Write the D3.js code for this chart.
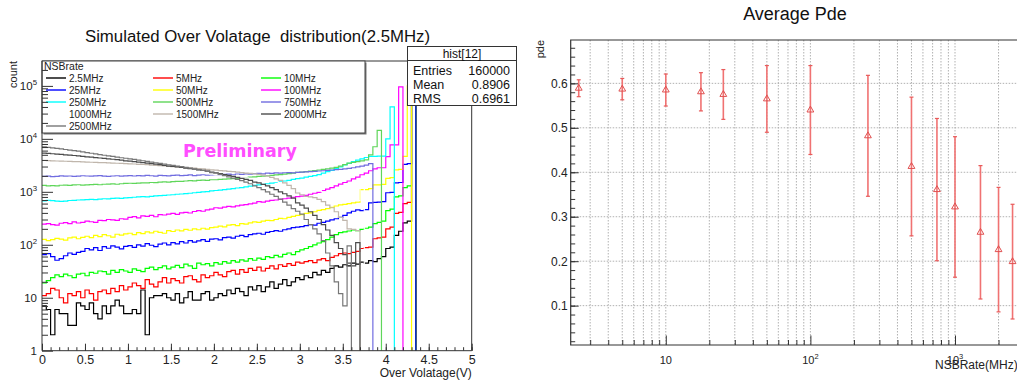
<!DOCTYPE html>
<html>
<head>
<meta charset="utf-8">
<script src="https://cdn.jsdelivr.net/npm/d3@7"></script>
<style>
  body { margin: 0; background: #fff; }
  svg { display: block; font-family: "Liberation Sans", Arial, Helvetica, sans-serif; }
</style>
</head>
<body>
<svg id="chart" width="1017" height="382"></svg>
<script>
// ---- left panel: simulated over-voltage histograms, bin width 0.05 V, counts per bin ----
const rateLabels = ["2.5MHz", "5MHz", "10MHz", "25MHz", "50MHz", "100MHz", "250MHz",
                    "500MHz", "750MHz", "1000MHz", "1500MHz", "2000MHz", "2500MHz"]
const binWidth = 0.05

const counts_2p5MHz = [
  7, 6, 2, 6, 5, 5, 3, 3, 8, 7,
  6, 8, 5, 4, 7, 5, 7, 9, 7, 5,
  5, 6, 5, 14, 2, 10, 11, 11, 12, 10,
  9, 12, 8, 10, 13, 9, 9, 12, 13, 9,
  10, 12, 11, 14, 12, 15, 13, 11, 16, 14,
  17, 13, 16, 20, 15, 18, 22, 17, 20, 24,
  22, 26, 24, 30, 27, 33, 30, 36, 40, 38,
  42, 40, 45, 43, 47, 45, 50, 48, 55, 60,
  85, 90, 150, 180, 260, 280, 155000]
const counts_5MHz = [
  11, 12, 15, 14, 10, 8, 12, 11, 13, 10,
  14, 12, 9, 13, 14, 12, 15, 13, 17, 14,
  16, 19, 17, 15, 22, 18, 16, 20, 24, 19,
  23, 21, 19, 25, 26, 22, 20, 27, 24, 26,
  30, 27, 25, 31, 33, 28, 34, 30, 36, 33,
  38, 32, 36, 40, 35, 42, 39, 44, 41, 47,
  45, 48, 50, 46, 52, 55, 50, 58, 62, 68,
  70, 68, 72, 75, 85, 88, 90, 130, 135, 140,
  200, 215, 390, 410, 600, 630, 150000]
const counts_10MHz = [
  19, 21, 24, 27, 25, 28, 26, 24, 28, 29,
  26, 30, 29, 32, 31, 28, 33, 30, 34, 32,
  30, 35, 33, 31, 36, 38, 34, 37, 40, 35,
  38, 41, 37, 43, 40, 36, 45, 42, 44, 40,
  46, 43, 48, 45, 50, 47, 52, 49, 55, 51,
  56, 53, 60, 57, 63, 59, 66, 70, 65, 74,
  80, 85, 92, 100, 108, 115, 125, 140, 155, 170,
  175, 182, 190, 185, 195, 205, 215, 250, 265, 280,
  440, 470, 800, 840, 1200, 1300, 140000]
const counts_25MHz = [
  65, 68, 60, 51, 55, 62, 70, 66, 72, 75,
  85, 80, 88, 78, 92, 86, 95, 90, 84, 93,
  96, 89, 100, 94, 105, 98, 92, 103, 108, 100,
  110, 104, 115, 108, 120, 112, 118, 125, 116, 128,
  130, 124, 136, 140, 133, 145, 150, 142, 155, 160,
  165, 158, 172, 178, 185, 180, 192, 200, 210, 215,
  220, 230, 240, 235, 255, 265, 280, 295, 310, 330,
  360, 400, 430, 455, 440, 460, 620, 630, 640, 650,
  960, 980, 1480, 1500, 3300, 3400, 120000]
const counts_50MHz = [
  127, 120, 125, 132, 128, 122, 135, 140, 130, 138,
  145, 136, 150, 142, 155, 148, 140, 158, 152, 160,
  165, 155, 170, 162, 175, 168, 180, 172, 165, 185,
  178, 190, 183, 195, 188, 200, 192, 205, 198, 210,
  215, 225, 218, 235, 240, 230, 250, 245, 260, 270,
  265, 280, 290, 285, 300, 315, 310, 330, 345, 360,
  370, 390, 400, 420, 445, 460, 480, 510, 540, 565,
  580, 600, 620, 640, 1100, 1100, 1150, 1350, 1350, 1380,
  1800, 1850, 2600, 2650, 4650, 100000]
const counts_100MHz = [
  245, 250, 240, 235, 255, 262, 250, 270, 258, 265,
  280, 272, 265, 290, 285, 300, 295, 288, 310, 305,
  330, 340, 322, 350, 345, 360, 338, 370, 365, 380,
  390, 375, 400, 410, 398, 425, 440, 430, 455, 470,
  500, 490, 515, 530, 520, 545, 560, 575, 590, 610,
  650, 640, 665, 690, 700, 720, 740, 760, 790, 810,
  830, 860, 900, 940, 980, 1050, 1120, 1200, 1300, 1400,
  1500, 1600, 1750, 1900, 2100, 2250, 2500, 2700, 2850, 2850,
  4600, 7700, 7700, 96000]
const counts_250MHz = [
  675, 690, 680, 665, 660, 670, 685, 690, 700, 705,
  710, 720, 715, 730, 740, 735, 750, 760, 755, 770,
  780, 790, 800, 810, 805, 820, 835, 850, 860, 870,
  880, 900, 910, 925, 940, 960, 980, 995, 1010, 1040,
  1060, 1080, 1100, 1120, 1150, 1180, 1200, 1240, 1280, 1320,
  1350, 1390, 1420, 1460, 1500, 1550, 1600, 1650, 1720, 1780,
  1820, 1890, 1950, 2030, 2120, 2250, 2400, 2550, 2750, 2950,
  3230, 3450, 3700, 3950, 4200, 4450, 4650, 4650, 4700, 4700,
  10000, 40000]
const counts_500MHz = [
  1320, 1300, 1310, 1290, 1330, 1340, 1320, 1350, 1360, 1340,
  1350, 1370, 1380, 1360, 1390, 1400, 1410, 1390, 1420, 1440,
  1450, 1440, 1460, 1480, 1470, 1500, 1490, 1520, 1540, 1530,
  1560, 1580, 1570, 1600, 1620, 1610, 1640, 1660, 1650, 1690,
  1690, 1720, 1740, 1760, 1780, 1800, 1830, 1860, 1890, 1920,
  1950, 1980, 2010, 2050, 2090, 2120, 2160, 2200, 2250, 2320,
  2360, 2410, 2460, 2520, 2580, 2650, 2720, 2800, 2900, 3050,
  3250, 3470, 3600, 3700, 3850, 4000, 5000, 7100, 14500]
const counts_750MHz = [
  1950, 1980, 1940, 1960, 2000, 1970, 1990, 1950, 1980, 2010,
  1990, 1970, 2000, 2020, 1980, 1960, 1990, 2010, 1970, 2000,
  2020, 1990, 2030, 2000, 2040, 2010, 1980, 2050, 2020, 2000,
  2040, 2060, 2020, 2050, 2080, 2030, 2070, 2100, 2060, 2090,
  2110, 2080, 2130, 2150, 2100, 2170, 2140, 2190, 2160, 2200,
  2220, 2190, 2250, 2230, 2270, 2250, 2290, 2310, 2280, 2330,
  2350, 2380, 2400, 2430, 2470, 2500, 2540, 2580, 2620, 2660,
  2700, 2780, 2850, 2950, 3050, 3200, 3400]
const counts_1000MHz = [
  2850, 2840, 2830, 2820, 2810, 2800, 2790, 2780, 2770, 2760,
  2750, 2740, 2730, 2720, 2710, 2700, 2690, 2680, 2670, 2650,
  2640, 2620, 2600, 2580, 2560, 2540, 2520, 2500, 2480, 2460,
  2440, 2420, 2390, 2360, 2330, 2300, 2270, 2240, 2200, 2160,
  2120, 2080, 2040, 2000, 1960, 1920, 1880, 1840, 1800, 1760,
  1720, 1680, 1640, 1600, 1550, 1500, 1450, 1400, 1350, 1300,
  1250, 1200, 1150, 1100, 1050, 1000, 950, 900, 850, 800,
  760, 720, 700, 680, 1200]
const counts_1500MHz = [
  3900, 3870, 3850, 3820, 3800, 3780, 3750, 3720, 3700, 3680,
  3650, 3620, 3600, 3570, 3550, 3520, 3490, 3460, 3430, 3400,
  3380, 3350, 3310, 3280, 3250, 3200, 3160, 3120, 3080, 3040,
  2990, 2950, 2910, 2870, 2830, 2790, 2750, 2700, 2650, 2600,
  2560, 2520, 2480, 2440, 2400, 2360, 2300, 2260, 2220, 2180,
  2130, 2060, 1980, 1880, 1760, 1640, 1480, 1320, 1150, 950,
  880, 820, 800, 780, 720, 650, 560, 500, 420, 330,
  290, 200, 195, 185]
const counts_2000MHz = [
  5370, 5300, 5230, 5150, 5080, 5000, 4930, 4850, 4780, 4650,
  4570, 4500, 4420, 4350, 4270, 4200, 4120, 4050, 3970, 3850,
  3800, 3720, 3640, 3560, 3480, 3400, 3330, 3250, 3170, 3050,
  3020, 2950, 2880, 2810, 2740, 2670, 2600, 2530, 2460, 2350,
  2290, 2200, 2120, 2040, 1960, 1880, 1800, 1720, 1640, 1520,
  1480, 1380, 1290, 1200, 1100, 1000, 920, 840, 760, 620,
  560, 490, 420, 360, 300, 240, 190, 150, 110, 85,
  65, 45, 40, 110]
const counts_2500MHz = [
  7080, 6900, 6750, 6600, 6450, 6300, 6150, 6000, 5850, 5700,
  5500, 5350, 5200, 5050, 4900, 4780, 4650, 4520, 4400, 4300,
  4200, 4080, 3970, 3860, 3750, 3640, 3540, 3440, 3340, 3240,
  3160, 3070, 2980, 2890, 2800, 2710, 2620, 2530, 2450, 2300,
  2240, 2130, 2020, 1920, 1820, 1720, 1620, 1520, 1420, 1300,
  1200, 1100, 1000, 900, 820, 730, 640, 560, 480, 430,
  380, 300, 240, 200, 160, 120, 70, 40, 20, 12,
  7, 95]

const hists = [counts_2p5MHz, counts_5MHz, counts_10MHz, counts_25MHz, counts_50MHz,
               counts_100MHz, counts_250MHz, counts_500MHz, counts_750MHz, counts_1000MHz,
               counts_1500MHz, counts_2000MHz, counts_2500MHz]
const histColors = ["#000000", "#ff0000", "#00ff00", "#0000ff", "#ffff00", "#ff00ff", "#00ffff",
                    "#5fd65a", "#706ce0", "#ffffff", "#c0b6ac", "#4c4c4c", "#777777"]

const statsTitle = "hist[12]"
const statsRows = [["Entries", "160000"], ["Mean", "0.8906"], ["RMS", "0.6961"]]

// ---- right panel: average pde vs NSB rate ----
const pdeRates  = [2.5, 5, 10, 17.5, 25, 50, 100, 250, 500, 750, 1000, 1500, 2000, 2500]
const pdeValues = [0.589, 0.587, 0.585, 0.581, 0.575, 0.565, 0.540, 0.482, 0.413, 0.361, 0.322, 0.265, 0.226, 0.199]
const pdeErrors = [0.019, 0.024, 0.036, 0.043, 0.056, 0.075, 0.100, 0.136, 0.156, 0.160, 0.158, 0.150, 0.140, 0.129]

const svg = d3.select("#chart")

// ================= left panel =================
var L = {left: 42, right: 471.7, top: 61, bottom: 350.7}
var xL = d3.scaleLinear().domain([0, 5]).range([L.left, L.right])
var yL = d3.scaleLog().domain([1, Math.pow(10, 5.47)]).range([L.bottom, L.top])
var yOf = v => v >= 1 ? yL(v) : L.bottom

svg.append("clipPath").attr("id", "clipL")
   .append("rect").attr("x", L.left).attr("y", L.top)
   .attr("width", L.right - L.left).attr("height", L.bottom - L.top)

var stepLine = d3.line().curve(d3.curveStepAfter).x(d => d[0]).y(d => d[1])

var gHist = svg.append("g").attr("clip-path", "url(#clipL)")
hists.forEach(function(vals, k) {
  var pts = vals.map((v, i) => [xL(i * binWidth), yOf(v)])
  pts.push([xL(vals.length * binWidth), L.bottom])
  gHist.append("path")
       .attr("d", stepLine(pts))
       .attr("fill", "none")
       .attr("stroke", histColors[k])
       .attr("stroke-width", 1.2)
})

// frame top / right
svg.append("path")
   .attr("d", `M${L.left},${L.top}H${L.right}V${L.bottom}`)
   .attr("fill", "none").attr("stroke", "#333").attr("stroke-width", 1)

// legend
var leg = {x: 42, y: 61, w: 323, h: 72}
svg.append("rect").attr("x", leg.x + 1.5).attr("y", leg.y + 1.5).attr("width", leg.w).attr("height", leg.h)
   .attr("fill", "#777")
svg.append("rect").attr("x", leg.x).attr("y", leg.y).attr("width", leg.w).attr("height", leg.h)
   .attr("fill", "#fff").attr("stroke", "#444").attr("stroke-width", 1)
svg.append("text").attr("x", 44).attr("y", 69.5).attr("font-size", 10.5).attr("fill", "#222").text("NSBrate")
var legCols = [46, 153, 261]
rateLabels.forEach(function(lab, i) {
  var cx = legCols[i % 3], cy = 78 + 12 * Math.floor(i / 3)
  svg.append("line").attr("x1", cx).attr("x2", cx + 20).attr("y1", cy).attr("y2", cy)
     .attr("stroke", histColors[i]).attr("stroke-width", 1.4)
  svg.append("text").attr("x", cx + 23).attr("y", cy + 3.6).attr("font-size", 10).attr("fill", "#222").text(lab)
})

// axes (drawn on top of the legend, like ROOT redraws them)
var gAx = svg.append("g").attr("stroke", "#333").attr("fill", "none")
var isDecade = v => Math.abs(Math.log10(v) - Math.round(Math.log10(v))) < 1e-9

svg.append("g").attr("transform", `translate(0,${L.bottom})`)
   .call(d3.axisBottom(xL).tickValues(d3.range(51).map(i => i / 10))
           .tickSizeInner(-3.5).tickSizeOuter(0).tickFormat(""))
   .call(g => g.select(".domain").remove())
   .call(g => g.selectAll("line").attr("stroke", "#333"))
svg.append("g").attr("transform", `translate(0,${L.bottom})`)
   .call(d3.axisBottom(xL).tickValues(d3.range(11).map(i => i / 2))
           .tickSizeInner(-7).tickSizeOuter(0).tickPadding(4.5).tickFormat(d3.format("~g")))
   .call(g => g.select(".domain").remove())
   .call(g => g.selectAll("line").attr("stroke", "#333"))
   .call(g => g.selectAll("text").attr("font-size", 12.5).attr("fill", "#222")
               .attr("font-family", "Liberation Sans, Arial, sans-serif"))

var yTicksL = yL.ticks().filter(v => v >= 1 && v <= yL.domain()[1])
svg.append("g").attr("transform", `translate(${L.left},0)`)
   .call(d3.axisLeft(yL).tickValues(yTicksL.filter(v => !isDecade(v)))
           .tickSizeInner(-6).tickSizeOuter(0).tickFormat(""))
   .call(g => g.select(".domain").remove())
   .call(g => g.selectAll("line").attr("stroke", "#333"))
svg.append("g").attr("transform", `translate(${L.left},0)`)
   .call(d3.axisLeft(yL).tickValues(yTicksL.filter(isDecade))
           .tickSizeInner(-11).tickSizeOuter(0).tickFormat(""))
   .call(g => g.select(".domain").remove())
   .call(g => g.selectAll("line").attr("stroke", "#333"))

gAx.append("path").attr("d", `M${L.left},${L.top}V${L.bottom}H${L.right}`).attr("stroke-width", 1)

function powLabel(x, y, exp, size, anchor) {
  var t = svg.append("text").attr("x", x).attr("y", y).attr("text-anchor", anchor)
             .attr("font-size", size).attr("fill", "#222")
  if (exp == 0) { t.text("1"); return }
  if (exp == 1) { t.text("10"); return }
  t.append("tspan").text("10")
  t.append("tspan").attr("dy", -size * 0.45).attr("font-size", size * 0.68).text(exp)
}
yTicksL.filter(isDecade).forEach(v => powLabel(37, yL(v) + 4, Math.round(Math.log10(v)), 11.5, "end"))

svg.append("text").attr("transform", `translate(17,${L.top}) rotate(-90)`)
   .attr("text-anchor", "end").attr("font-size", 11).attr("fill", "#222").text("count")
svg.append("text").attr("x", L.right).attr("y", 377).attr("text-anchor", "end")
   .attr("font-size", 12).attr("fill", "#222").text("Over Volatage(V)")
svg.append("text").attr("x", 257.5).attr("y", 42).attr("text-anchor", "middle")
   .style("white-space", "pre").attr("xml:space", "preserve")
   .attr("font-size", 16.8).attr("fill", "#111").text("Simulated Over Volatage  distribution(2.5MHz)")

// stats box
var st = {x: 407.5, y: 46.5, w: 109, h: 59}
svg.append("rect").attr("x", st.x).attr("y", st.y).attr("width", st.w).attr("height", st.h)
   .attr("fill", "#fff").attr("stroke", "#333")
svg.append("line").attr("x1", st.x).attr("x2", st.x + st.w).attr("y1", 60.5).attr("y2", 60.5).attr("stroke", "#333")
svg.append("text").attr("x", st.x + st.w / 2).attr("y", 57.5).attr("text-anchor", "middle")
   .attr("font-size", 12).attr("fill", "#111").text(statsTitle)
statsRows.forEach(function(r, i) {
  var yy = 74.5 + 14 * i
  svg.append("text").attr("x", 413).attr("y", yy).attr("font-size", 12.5).attr("fill", "#111").text(r[0])
  svg.append("text").attr("x", 510).attr("y", yy).attr("text-anchor", "end")
     .attr("font-size", 12.5).attr("fill", "#111").text(r[1])
})

svg.append("text").attr("x", 183).attr("y", 156.5)
   .attr("font-family", "DejaVu Sans, Verdana, sans-serif").attr("font-weight", "bold")
   .attr("font-size", 17.5).attr("fill", "#ff4dff").text("Preliminary")

// ================= right panel =================
var R = {left: 570.7, right: 1024, top: 40, bottom: 345}
var xR = d3.scaleLog().domain([2.2, 3000]).range([R.left, R.right])
var yR = d3.scaleLinear().domain([0.0115, 0.6975]).range([R.bottom, R.top])

var xTicksR = xR.ticks()
var yMajorR = d3.range(1, 7).map(i => i / 10)
var yMinorR = d3.range(1, 35).map(i => i * 0.02).filter(v => v > yR.domain()[0])

svg.append("g")
   .attr("stroke", "#a8a8a8").attr("stroke-width", 0.9).attr("stroke-dasharray", "1.5,1.5")
   .call(g => g.append("g").selectAll("line").data(xTicksR).join("line")
     .attr("x1", d => xR(d)).attr("x2", d => xR(d))
     .attr("y1", R.top).attr("y2", R.bottom))
   .call(g => g.append("g").selectAll("line").data(yMajorR).join("line")
     .attr("y1", d => yR(d)).attr("y2", d => yR(d))
     .attr("x1", R.left).attr("x2", R.right))

svg.append("g").attr("transform", `translate(${R.left},0)`)
   .call(d3.axisLeft(yR).tickValues(yMinorR).tickSizeInner(-4.5).tickSizeOuter(0).tickFormat(""))
   .call(g => g.select(".domain").remove())
   .call(g => g.selectAll("line").attr("stroke", "#333"))
svg.append("g").attr("transform", `translate(${R.left},0)`)
   .call(d3.axisLeft(yR).tickValues(yMajorR).tickSizeInner(-8).tickSizeOuter(0).tickPadding(3)
           .tickFormat(d3.format(".1f")))
   .call(g => g.select(".domain").remove())
   .call(g => g.selectAll("line").attr("stroke", "#333"))
   .call(g => g.selectAll("text").attr("font-size", 12).attr("fill", "#222")
               .attr("font-family", "Liberation Sans, Arial, sans-serif"))

svg.append("g").attr("transform", `translate(0,${R.bottom})`)
   .call(d3.axisBottom(xR).tickValues(xTicksR.filter(v => !isDecade(v)))
           .tickSizeInner(-5).tickSizeOuter(0).tickFormat(""))
   .call(g => g.select(".domain").remove())
   .call(g => g.selectAll("line").attr("stroke", "#333"))
svg.append("g").attr("transform", `translate(0,${R.bottom})`)
   .call(d3.axisBottom(xR).tickValues(xTicksR.filter(isDecade))
           .tickSizeInner(-9.5).tickSizeOuter(0).tickFormat(""))
   .call(g => g.select(".domain").remove())
   .call(g => g.selectAll("line").attr("stroke", "#333"))
xTicksR.filter(isDecade).forEach(v => powLabel(xR(v), 364, Math.round(Math.log10(v)), 11, "middle"))

svg.append("path").attr("d", `M${R.right},${R.top}H${R.left}V${R.bottom}H${R.right}`)
   .attr("fill", "none").attr("stroke", "#333").attr("stroke-width", 1.2)

// error bars and markers
var gPts = svg.append("g")
pdeRates.forEach(function(r, i) {
  var x = xR(r), v = pdeValues[i], e = pdeErrors[i]
  gPts.append("line").attr("x1", x).attr("x2", x).attr("y1", yR(v - e)).attr("y2", yR(v + e))
      .attr("stroke", "#f07272").attr("stroke-width", 1.6)
  ;[v - e, v + e].forEach(function(c) {
    gPts.append("line").attr("x1", x - 2).attr("x2", x + 2).attr("y1", yR(c)).attr("y2", yR(c))
        .attr("stroke", "#e85a5a").attr("stroke-width", 1.2)
  })
  gPts.append("path").attr("d", d3.symbol().type(d3.symbolTriangle).size(20)())
      .attr("transform", `translate(${x},${yR(v)})`)
      .attr("fill", "none").attr("stroke", "#e05050").attr("stroke-width", 1)
})

svg.append("text").attr("x", 795).attr("y", 20).attr("text-anchor", "middle")
   .attr("font-size", 18).attr("fill", "#111").text("Average Pde")
svg.append("text").attr("transform", `translate(544,${R.top}) rotate(-90)`)
   .attr("text-anchor", "end").attr("font-size", 11).attr("fill", "#222").text("pde")
svg.append("text").attr("x", 935).attr("y", 368.5)
   .attr("font-size", 12).attr("fill", "#222").text("NSBRate(MHz)")
</script>
</body>
</html>
